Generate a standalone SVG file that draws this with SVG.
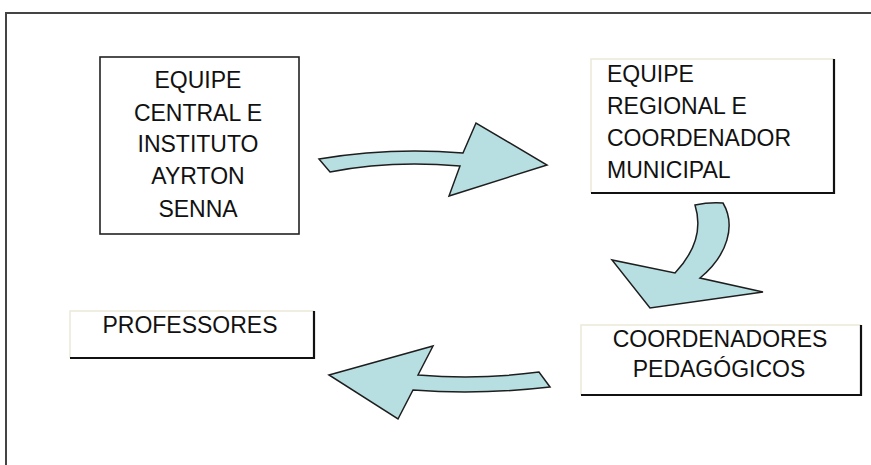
<svg xmlns="http://www.w3.org/2000/svg" width="871" height="465" viewBox="0 0 871 465">
<style>
.t{font-family:"Liberation Sans",Arial,sans-serif;font-size:23px;fill:#111}
.c{text-anchor:middle}
.arrow{fill:#b7dfe2;stroke:#1e1e1e;stroke-width:1.5;stroke-linejoin:miter}
.lt{stroke:#ece9d8;stroke-width:1.5;fill:none}
.dk{stroke:#111;stroke-width:2.2;fill:none}
</style>
<rect width="871" height="465" fill="#fff"/>
<path d="M6,465 V13 H871" fill="none" stroke="#444" stroke-width="2"/>
<g id="node-central">
<rect x="100" y="57" width="199" height="177" fill="#fff" stroke="#222" stroke-width="1.6"/>
<text class="t c" x="198" y="88">EQUIPE</text>
<text class="t c" x="198" y="121">CENTRAL E</text>
<text class="t c" x="198" y="152">INSTITUTO</text>
<text class="t c" x="198" y="184">AYRTON</text>
<text class="t c" x="198" y="217">SENNA</text>
</g>
<g id="node-regional">
<rect x="591" y="59" width="243" height="134" fill="#fff"/>
<path class="lt" d="M591,193 V59 H834"/>
<path class="dk" d="M834,59 V193 H591"/>
<text class="t" x="607" y="82">EQUIPE</text>
<text class="t" x="607" y="114">REGIONAL E</text>
<text class="t" x="607" y="146">COORDENADOR</text>
<text class="t" x="607" y="178">MUNICIPAL</text>
</g>
<g id="node-coordenadores">
<rect x="581" y="325" width="280" height="70" fill="#fff"/>
<path class="lt" d="M581,395 V325 H861"/>
<path class="dk" d="M861,325 V395 H581"/>
<text class="t c" x="720" y="347">COORDENADORES</text>
<text class="t c" x="719" y="377">PEDAGÓGICOS</text>
</g>
<g id="node-professores">
<rect x="70" y="311" width="244" height="47" fill="#fff"/>
<path class="lt" d="M70,358 V311 H314"/>
<path class="dk" d="M314,311 V358 H70"/>
<text class="t c" x="190" y="333">PROFESSORES</text>
</g>
<g id="connectors">
<path class="arrow" d="M319,159 Q390,147 463,153 L476,123 L547,165 L449,196 L460,166 Q390,160 330,172 Z"/>
<path class="arrow" d="M695,205 Q709,202 723,203 C736,225 728,255 700,278 L763,292 L650,308 L612,260 L675,273 Q706,240 695,205 Z"/>
<path class="arrow" d="M329,375 L433,346 L418,375 Q480,380 539,372 L550,387 Q480,395 413,390 L398,419 Z"/>
</g>
</svg>
